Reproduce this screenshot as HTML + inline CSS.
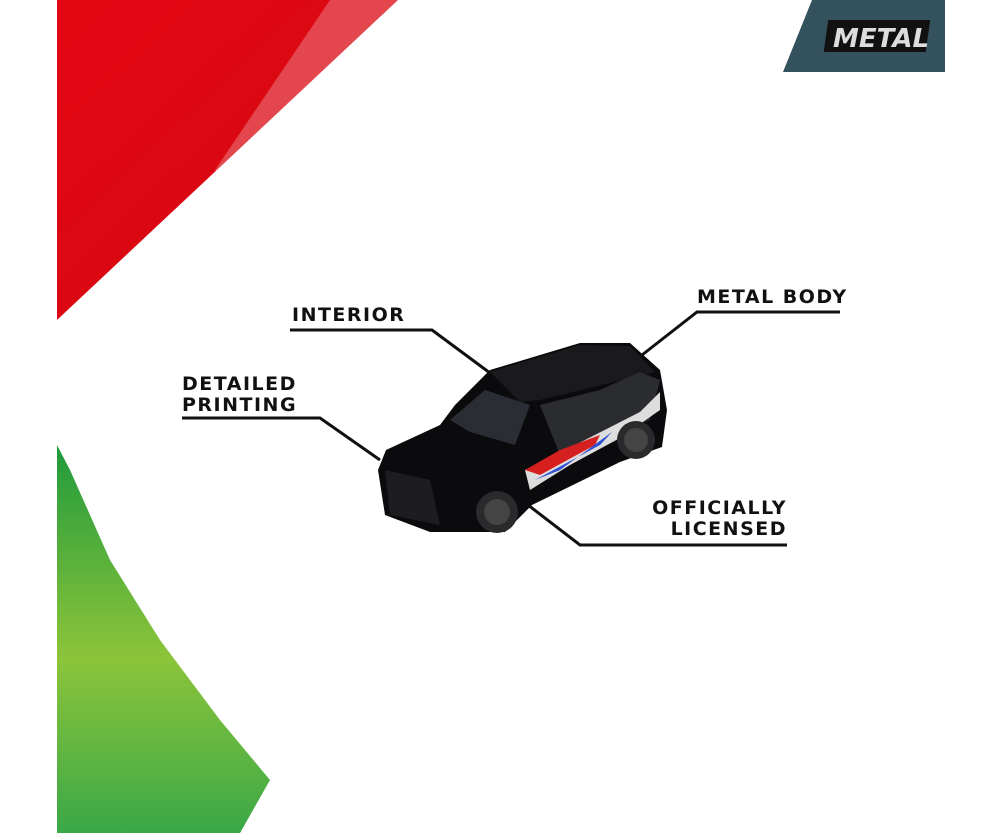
<!DOCTYPE html>
<html><head><style>
html,body{margin:0;padding:0;background:#fff;}
svg{display:block}
text{font-family:"DejaVu Sans","Liberation Sans",sans-serif;font-weight:bold;fill:#111;font-size:19px;letter-spacing:1.5px}
</style></head><body>
<svg width="1000" height="833" viewBox="0 0 1000 833">
<defs>
<linearGradient id="g" x1="0" y1="0" x2="0" y2="1">
<stop offset="0" stop-color="#1f9a3c"/><stop offset="0.55" stop-color="#8cc43a"/><stop offset="1" stop-color="#3aa847"/>
</linearGradient>
<linearGradient id="r" x1="0" y1="0" x2="1" y2="1">
<stop offset="0" stop-color="#e30613"/><stop offset="1" stop-color="#d20a12"/>
</linearGradient>
</defs>
<polygon points="57,0 398,0 57,320" fill="url(#r)"/>
<polygon points="330,0 398,0 225,185 215,170" fill="#fff" opacity="0.25"/>
<polygon points="57,445 70,470 110,560 160,640 220,720 270,780 240,833 57,833" fill="url(#g)"/>
<polygon points="812,0 945,0 945,72 783,72" fill="#34525e"/>
<rect x="826" y="20" width="102" height="32" fill="#111" transform="skewX(-8) translate(5,0)"/>
<text x="833" y="47" style="font-size:26px;font-style:italic;fill:#ddd;letter-spacing:0">METAL</text>

<g stroke="#111" stroke-width="3" fill="none">
<polyline points="290,330 432,330 490,373"/>
<polyline points="840,312 697,312 642,355"/>
<polyline points="182,418 320,418 380,460"/>
<polyline points="787,545 580,545 528,505"/>
</g>
<text x="292" y="321">INTERIOR</text>
<text x="697" y="303">METAL BODY</text>
<text x="182" y="390">DETAILED</text>
<text x="182" y="411">PRINTING</text>
<text x="787" y="514" text-anchor="end">OFFICIALLY</text>
<text x="787" y="535" text-anchor="end">LICENSED</text>

<!-- car -->
<polygon points="378,470 386,450 440,425 455,405 490,370 580,343 630,343 660,370 667,410 662,447 620,462 532,505 505,532 430,532 385,515" fill="#0b0b0d"/>
<polygon points="490,372 580,345 630,346 655,372 540,400 520,402" fill="#1a1a1c"/>
<polygon points="450,420 485,390 530,405 515,445 470,432" fill="#2a2d33"/>
<polygon points="540,405 600,390 640,372 660,380 650,420 560,455" fill="#2a2c30"/>
<polygon points="525,470 585,440 640,412 660,392 660,410 620,438 570,465 530,490" fill="#ddd"/>
<polygon points="525,470 560,450 600,435 595,445 540,475" fill="#d62020"/>
<polygon points="535,480 600,445 612,432 560,470" fill="#2f4fd6"/>
<polygon points="385,470 430,480 440,525 390,515" fill="#1d1d20"/>
<circle cx="497" cy="512" r="21" fill="#2a2a2c"/><circle cx="497" cy="512" r="13" fill="#444"/>
<circle cx="636" cy="440" r="19" fill="#2a2a2c"/><circle cx="636" cy="440" r="12" fill="#444"/>
</svg>
</body></html>
